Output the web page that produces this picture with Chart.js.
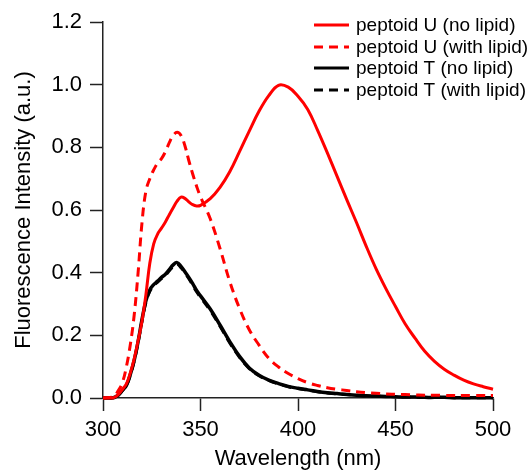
<!DOCTYPE html>
<html>
<head>
<meta charset="utf-8">
<script src="https://cdn.jsdelivr.net/npm/chart.js@4.4.1/dist/chart.umd.min.js"></script>
<style>
  body { margin: 0; background: #fff; }
  #wrap { width: 531px; height: 472px; }
</style>
</head>
<body>
<div id="wrap"><canvas id="spectra" width="531" height="472"></canvas></div>
<script>
// wavelength grid (nm)
var wavelength = [300, 305, 308, 310, 312, 314, 316, 318, 320, 322, 324, 326, 328, 330, 332, 334, 336, 338, 340, 342, 344, 346, 348, 350,
    355, 360, 365, 370, 375, 380, 385, 390, 395, 400, 405, 410, 415, 420, 425, 430, 435, 440, 445, 450, 455, 460, 465, 470, 475, 480, 485, 490, 495, 500];

var uNoLipid = [0, 0, 0.012, 0.028, 0.045, 0.08, 0.125, 0.183, 0.245, 0.33, 0.43, 0.492, 0.523, 0.542, 0.562, 0.585, 0.607, 0.628, 0.641, 0.637, 0.626, 0.617, 0.613, 0.615,
    0.636, 0.672, 0.722, 0.786, 0.852, 0.915, 0.965, 0.998, 0.992, 0.963, 0.921, 0.855, 0.783, 0.708, 0.633, 0.56, 0.484, 0.413, 0.35, 0.292, 0.236, 0.191, 0.149, 0.117, 0.092, 0.073, 0.057, 0.045, 0.036, 0.028];

var uWithLipid = [0, 0.003, 0.025, 0.05, 0.1, 0.17, 0.265, 0.4, 0.56, 0.66, 0.70, 0.728, 0.75, 0.764, 0.786, 0.815, 0.838, 0.848, 0.838, 0.805, 0.758, 0.715, 0.676, 0.642,
    0.572, 0.477, 0.372, 0.286, 0.218, 0.169, 0.127, 0.099, 0.078, 0.062, 0.049, 0.04, 0.033, 0.028, 0.024, 0.02, 0.017, 0.015, 0.013, 0.012, 0.011, 0.01, 0.009, 0.009, 0.008, 0.008, 0.008, 0.008, 0.008, 0.008];

var tNoLipid = [0, 0, 0.01, 0.025, 0.04, 0.075, 0.12, 0.18, 0.25, 0.31, 0.345, 0.362, 0.373, 0.385, 0.395, 0.41, 0.425, 0.432, 0.42, 0.403, 0.385, 0.365, 0.343, 0.326,
    0.284, 0.233, 0.18, 0.133, 0.096, 0.073, 0.057, 0.046, 0.037, 0.031, 0.026, 0.021, 0.017, 0.014, 0.011, 0.009, 0.007, 0.006, 0.005, 0.004, 0.003, 0.003, 0.002, 0.002, 0.002, 0.001, 0.001, 0.001, 0.001, 0.001];

var tWithLipid = [0, 0, 0.01, 0.024, 0.04, 0.073, 0.118, 0.177, 0.246, 0.305, 0.34, 0.358, 0.37, 0.381, 0.392, 0.406, 0.42, 0.428, 0.416, 0.4, 0.381, 0.36, 0.339, 0.321,
    0.279, 0.229, 0.176, 0.13, 0.094, 0.071, 0.056, 0.045, 0.036, 0.03, 0.025, 0.02, 0.016, 0.013, 0.011, 0.009, 0.007, 0.006, 0.005, 0.004, 0.003, 0.003, 0.002, 0.002, 0.002, 0.001, 0.001, 0.001, 0.001, 0.001];

var seriesNames = ["peptoid U (no lipid)", "peptoid U (with lipid)", "peptoid T (no lipid)", "peptoid T (with lipid)"];

function pts(vals) {
    return wavelength.map(function (w, i) { return { x: w, y: vals[i] }; });
}

Chart.defaults.font.family = "'Liberation Sans', Arial, sans-serif";
Chart.defaults.color = "#000";

// legend drawn inside the plot, top right
var insideLegend = {
    id: "insideLegend",
    afterDraw: function (chart) {
        var c = chart.ctx;
        var rows = [25, 47, 68, 90];
        c.save();
        c.font = "19px 'Liberation Sans', Arial, sans-serif";
        c.textBaseline = "middle";
        c.fillStyle = "#000";
        chart.data.datasets.forEach(function (ds, i) {
            var y = rows[i];
            c.beginPath();
            c.strokeStyle = ds.borderColor;
            c.lineWidth = 3;
            c.setLineDash(ds.borderDash || []);
            c.moveTo(314, y);
            c.lineTo(349, y);
            c.stroke();
            c.setLineDash([]);
            c.fillText(ds.label, 356, y + 1);
        });
        c.restore();
    }
};

var ctx = document.getElementById("spectra");
var myChart = new Chart(ctx, {
    type: "line",
    data: {
        datasets: [{
            label: seriesNames[0],
            data: pts(uNoLipid),
            borderColor: "#ff0000",
            borderWidth: 3,
            order: 0
        }, {
            label: seriesNames[1],
            data: pts(uWithLipid),
            borderColor: "#ff0000",
            borderWidth: 3,
            borderDash: [9, 6],
            order: 1
        }, {
            label: seriesNames[2],
            data: pts(tNoLipid),
            borderColor: "#000000",
            borderWidth: 3.5,
            order: 3
        }, {
            label: seriesNames[3],
            data: pts(tWithLipid),
            borderColor: "#000000",
            borderWidth: 3,
            borderDash: [9, 6],
            order: 2
        }]
    },
    options: {
        responsive: false,
        animation: false,
        layout: { padding: { top: 22, right: 38, left: 0, bottom: 0 } },
        elements: {
            point: { radius: 0 },
            line: { tension: 0.4, fill: false }
        },
        datasets: { line: { clip: false } },
        plugins: {
            legend: { display: false },
            tooltip: { enabled: false }
        },
        scales: {
            x: {
                type: "linear",
                min: 300,
                max: 500,
                border: { display: true, color: "#222", width: 1.5 },
                grid: { drawOnChartArea: false, drawTicks: true, tickLength: 13, tickColor: "#222", tickWidth: 1.5 },
                ticks: { stepSize: 50, padding: 6, font: { size: 22 }, color: "#000" },
                title: { display: true, text: "Wavelength (nm)", font: { size: 22 }, color: "#000", padding: { top: 0, bottom: 0 } },
                afterFit: function (scale) { scale.height = 74; }
            },
            y: {
                min: 0,
                max: 1.2,
                border: { display: true, color: "#222", width: 1.5 },
                grid: { drawOnChartArea: false, drawTicks: true, tickLength: 13, tickColor: "#222", tickWidth: 1.5 },
                ticks: {
                    stepSize: 0.2,
                    padding: 8,
                    font: { size: 22 },
                    color: "#000",
                    callback: function (v) { return Number(v).toFixed(1); }
                },
                title: { display: true, text: "Fluorescence Intensity (a.u.)", font: { size: 22 }, color: "#000", padding: { top: 11, bottom: 0 } },
                afterFit: function (scale) { scale.width = 103; }
            }
        }
    },
    plugins: [insideLegend]
});
</script>
</body>
</html>
